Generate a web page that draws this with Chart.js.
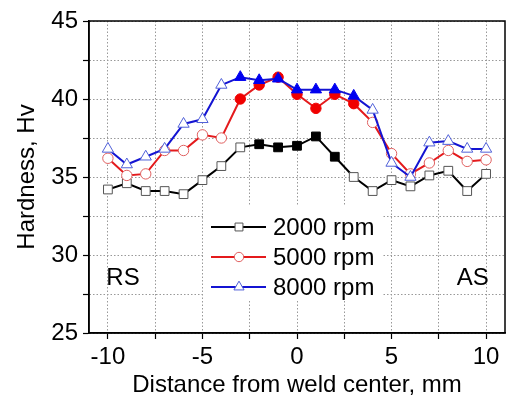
<!DOCTYPE html>
<html>
<head>
<meta charset="utf-8">
<script src="https://cdn.jsdelivr.net/npm/chart.js@4.4.0/dist/chart.umd.min.js"></script>
<style>
  html, body { margin: 0; padding: 0; background: #fff; }
  #wrap { width: 506px; height: 400px; }
</style>
</head>
<body>
<div id="wrap"><canvas id="hardnessChart"></canvas></div>
<script>
// distance from weld center, mm
var distance = [-10, -9, -8, -7, -6, -5, -4, -3, -2, -1, 0, 1, 2, 3, 4, 5, 6, 7, 8, 9, 10];

// hardness, Hv
var hv2000 = [34.2, 34.6, 34.1, 34.1, 33.9, 34.8, 35.7, 36.9, 37.1, 36.9, 37.0, 37.6, 36.3, 35.0, 34.1, 34.8, 34.4, 35.1, 35.4, 34.1, 35.2];
var hv5000 = [36.2, 35.1, 35.2, 36.7, 36.7, 37.7, 37.5, 40.0, 40.9, 41.4, 40.3, 39.4, 40.3, 39.7, 38.5, 36.5, 35.2, 35.9, 36.7, 36.0, 36.1];
var hv8000 = [36.8, 35.8, 36.3, 36.8, 38.4, 38.7, 40.9, 41.4, 41.2, 41.3, 40.6, 40.6, 40.6, 40.2, 39.3, 35.9, 35.0, 37.2, 37.3, 36.8, 36.8];

// positions with solid (filled) markers
var filled2000 = [-2, -1, 0, 1, 2];
var filled5000 = [-3, -2, -1, 0, 1, 2, 3];
var filled8000 = [-3, -2, -1, 0, 1, 2, 3];

var seriesLabels = ['2000 rpm', '5000 rpm', '8000 rpm'];
var xTicks = [-10, -7.5, -5, -2.5, 0, 2.5, 5, 7.5, 10];
var yTicks = [25, 27.5, 30, 32.5, 35, 37.5, 40, 42.5, 45];

var FONT = '"Liberation Sans", Arial, sans-serif';

function points(ys) {
    return distance.map(function (x, i) { return { x: x, y: ys[i] }; });
}

function fillFor(filled, color) {
    return function (ctx) {
        var p = ctx.raw;
        return p && filled.indexOf(p.x) >= 0 ? color : '#ffffff';
    };
}
function borderFor(filled, solid, open) {
    return function (ctx) {
        var p = ctx.raw;
        return p && filled.indexOf(p.x) >= 0 ? solid : open;
    };
}

var styles = [
    { line: '#000000', solid: '#000000', open: '#555555', shape: 'rect', r: 6.2 },
    { line: '#e41a1c', solid: '#f00000', open: '#e06060', shape: 'circle', r: 5.2 },
    { line: '#1414d2', solid: '#0000f0', open: '#5060d8', shape: 'triangle', r: 6.5 }
];

// frame around plot + RS / AS labels + legend box
var decorations = {
    id: 'decorations',
    beforeDatasetsDraw: function (chart) {
        var ctx = chart.ctx, a = chart.chartArea;
        ctx.save();
        ctx.strokeStyle = '#000';
        ctx.lineWidth = 1.5;
        ctx.strokeRect(a.left, a.top, a.right - a.left, a.bottom - a.top);
        ctx.restore();
    },
    afterDatasetsDraw: function (chart) {
        var ctx = chart.ctx;
        var xs = chart.scales.x, ys = chart.scales.y;
        ctx.save();
        ctx.fillStyle = '#000';
        ctx.font = '24px ' + FONT;
        ctx.textAlign = 'center';
        ctx.textBaseline = 'middle';
        ctx.fillText('RS', xs.getPixelForValue(-9.2), ys.getPixelForValue(28.5));
        ctx.fillText('AS', xs.getPixelForValue(9.3), ys.getPixelForValue(28.5));

        // legend
        ctx.fillStyle = '#fff';
        ctx.fillRect(203, 206, 179, 94);
        var rowY = [227, 257, 287];
        for (var i = 0; i < 3; i++) {
            var s = styles[i];
            ctx.strokeStyle = s.line;
            ctx.lineWidth = 2;
            ctx.beginPath();
            ctx.moveTo(211, rowY[i]);
            ctx.lineTo(266, rowY[i]);
            ctx.stroke();
            ctx.fillStyle = '#fff';
            ctx.strokeStyle = s.open;
            ctx.lineWidth = 1;
            Chart.helpers.drawPoint(ctx, { pointStyle: s.shape, radius: s.r * 0.9, rotation: 0, borderWidth: 1 }, 239, rowY[i]);
            ctx.fillStyle = '#000';
            ctx.textAlign = 'left';
            ctx.font = '24px ' + FONT;
            ctx.fillText(seriesLabels[i], 273, rowY[i] + 1);
        }
        ctx.restore();
    }
};

var datasets = [hv2000, hv5000, hv8000].map(function (ys, i) {
    var s = styles[i];
    var filled = [filled2000, filled5000, filled8000][i];
    return {
        label: seriesLabels[i],
        data: points(ys),
        showLine: true,
        borderColor: s.line,
        borderWidth: 2,
        pointStyle: s.shape,
        pointRadius: s.r,
        pointBorderWidth: 1,
        pointBackgroundColor: fillFor(filled, s.solid),
        pointBorderColor: borderFor(filled, s.solid, s.open),
        order: 3 - i
    };
});

var gridOpts = {
    color: '#999999',
    lineWidth: 1,
    tickColor: '#000',
    tickLength: 6,
    tickWidth: 1.2
};

var hardness = document.getElementById('hardnessChart').getContext('2d');
var hardnessChart = new Chart(hardness, {
    type: 'scatter',
    data: { datasets: datasets },
    plugins: [decorations],
    options: {
        responsive: true,
        maintainAspectRatio: false,
        animation: false,
        layout: { autoPadding: false, padding: { left: 0, right: 1, top: 21, bottom: 0 } },
        plugins: {
            legend: { display: false },
            tooltip: { enabled: false }
        },
        scales: {
            x: {
                type: 'linear',
                min: -11,
                max: 11,
                afterBuildTicks: function (scale) {
                    scale.ticks = xTicks.map(function (v) { return { value: v }; });
                },
                afterFit: function (scale) {
                    scale.height = 67;
                    scale.paddingLeft = 0;
                    scale.paddingRight = 0;
                },
                ticks: {
                    padding: 4,
                    color: '#000',
                    font: { family: FONT, size: 24 },
                    maxRotation: 0,
                    autoSkip: false,
                    callback: function (v) { return v % 5 === 0 ? String(v) : ''; }
                },
                grid: gridOpts,
                border: { color: '#000', width: 1.5, dash: [1.5, 2] },
                title: {
                    display: true,
                    text: 'Distance from weld center, mm',
                    color: '#000',
                    font: { family: FONT, size: 24 },
                    padding: { top: 0, bottom: 0 }
                }
            },
            y: {
                type: 'linear',
                min: 25,
                max: 45,
                afterBuildTicks: function (scale) {
                    scale.ticks = yTicks.map(function (v) { return { value: v }; });
                },
                afterFit: function (scale) { scale.width = 89; },
                ticks: {
                    padding: 5,
                    color: '#000',
                    font: { family: FONT, size: 24 },
                    autoSkip: false,
                    callback: function (v) { return v % 5 === 0 ? String(v) : ''; }
                },
                grid: gridOpts,
                border: { color: '#000', width: 1.5, dash: [1.5, 2] },
                title: {
                    display: true,
                    text: 'Hardness, Hv',
                    color: '#000',
                    font: { family: FONT, size: 24 },
                    padding: { top: 13, bottom: 0 }
                }
            }
        }
    }
});
</script>
</body>
</html>
